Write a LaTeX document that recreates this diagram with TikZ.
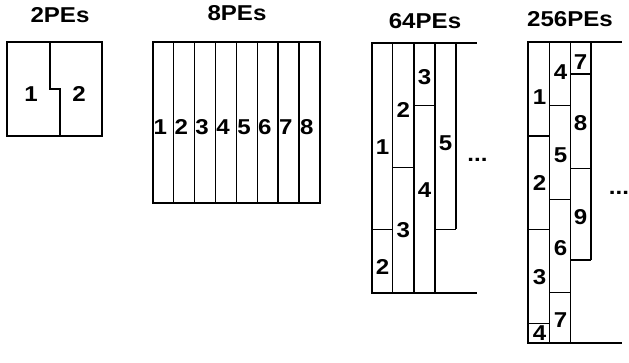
\documentclass[tikz,border=0pt]{standalone}
\usepackage{fontspec}
\setmainfont{Liberation Sans}[FakeStretch=1.12]
\begin{document}
\begin{tikzpicture}[x=1pt,y=-1pt,
  outer/.style={line width=2.2pt},
  inner/.style={line width=1.4pt},
  lbl/.style={font=\fontsize{21.5}{22}\selectfont\bfseries, inner sep=0pt},
  ttl/.style={font=\fontsize{21.5}{22}\selectfont\bfseries, inner sep=0pt}]
\useasboundingbox (0,0) rectangle (629,362);

% ---- 2 PEs ----
\node[ttl] (t2) at (60,15) {2PEs};
\draw[outer] (7,42) rectangle (102,136);
\draw[inner] (50,42) -- (50,89) -- (60,89) -- (60,136);
\node[lbl] (a1) at (31,94) {1};
\node[lbl] (a2) at (79,94) {2};

% ---- 8 PEs ----
\node[ttl] (t8) at (237,13) {8PEs};
\foreach \i in {1,...,7}
  \draw[inner] ({152.7+\i*20.91},42) -- ({152.7+\i*20.91},203);
\draw[outer] (152.7,42) rectangle (320,203);
\foreach \i in {1,...,8}
  \node[lbl] (b\i) at ({152.7+(\i-0.5)*20.91-2.8},127) {\i};

% ---- 64 PEs ----
\node[ttl] (t64) at (425,21) {64PEs};
\draw[inner] (392.7,42.7) -- (392.7,293);
\draw[inner] (414,42.7) -- (414,293);
\draw[inner] (435,42.7) -- (435,293);
\draw[inner] (456,42.7) -- (456,229.3);
\draw[inner] (372,229.3) -- (392.7,229.3);
\draw[inner] (392.7,167.7) -- (414,167.7);
\draw[inner] (414,105.3) -- (435,105.3);
\draw[inner] (435,229.3) -- (456,229.3);
\draw[outer] (476.7,42.7) -- (372,42.7) -- (372,293) -- (476.7,293);
\node[lbl] (c1) at (382.5,146.7) {1};
\node[lbl] (c2) at (382.5,266.7) {2};
\node[lbl] (c3) at (403.3,110) {2};
\node[lbl] (c4) at (403.3,230) {3};
\node[lbl] (c5) at (424.5,76.7) {3};
\node[lbl] (c6) at (424.5,190) {4};
\node[lbl] (c7) at (445.5,143) {5};
\node[lbl] (c8) at (477.5,160) {...};

% ---- 256 PEs ----
\node[ttl] (t256) at (570,19) {256PEs};
\draw[inner] (549.3,42.3) -- (549.3,343.3);
\draw[inner] (570.7,42.3) -- (570.7,343.3);
\draw[inner] (591,42.3) -- (591,260);
\foreach \yy in {136,229.3,323.3}
  \draw[inner] (528.3,\yy) -- (549.3,\yy);
\foreach \yy in {105.3,199.3,292.7}
  \draw[inner] (549.3,\yy) -- (570.7,\yy);
\foreach \yy in {74,168.3,260}
  \draw[inner] (570.7,\yy) -- (591,\yy);
\draw[outer] (621.7,42.3) -- (528.3,42.3) -- (528.3,343.3) -- (621.7,343.3);
\node[lbl] (d1) at (539.5,96.7) {1};
\node[lbl] (d2) at (539.5,183.3) {2};
\node[lbl] (d3) at (539.5,276.7) {3};
\node[lbl] (d4) at (539.5,333.3) {4};
\node[lbl] (d5) at (560.5,71.7) {4};
\node[lbl] (d6) at (560.5,155) {5};
\node[lbl] (d7) at (560.5,248.3) {6};
\node[lbl] (d8) at (560.5,320) {7};
\node[lbl] (d9) at (580.5,61.7) {7};
\node[lbl] (d10) at (580.5,123.3) {8};
\node[lbl] (d11) at (580.5,216.7) {9};
\node[lbl] (d12) at (619,193.3) {...};
\end{tikzpicture}
\end{document}
